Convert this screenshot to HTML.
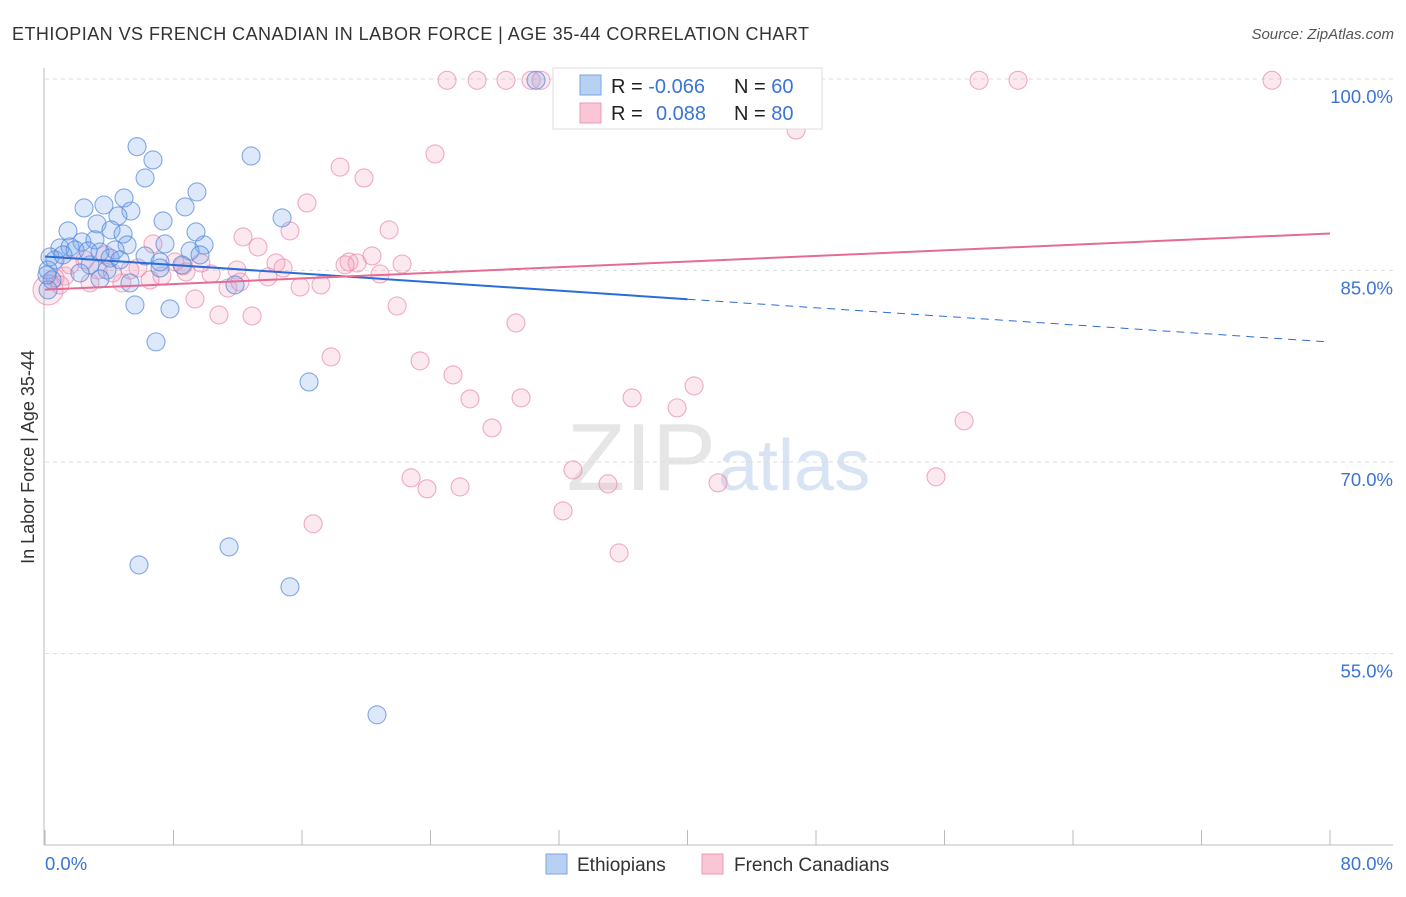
<!DOCTYPE html>
<html><head><meta charset="utf-8"><style>
body{margin:0;background:#fff;font-family:"Liberation Sans",sans-serif;}
svg text{font-family:"Liberation Sans",sans-serif;}
</style></head><body>
<svg id="c" width="1406" height="892">
<text x="12" y="40" font-size="18" fill="#333" textLength="797">ETHIOPIAN VS FRENCH CANADIAN IN LABOR FORCE | AGE 35-44 CORRELATION CHART</text>
<text x="1394" y="39" font-size="15" fill="#555" font-style="italic" text-anchor="end">Source: ZipAtlas.com</text>
<text x="34" y="457" font-size="18" fill="#333" text-anchor="middle" transform="rotate(-90 34 457)">In Labor Force | Age 35-44</text>
<text x="716" y="490" font-size="96" fill="#e6e6e6" text-anchor="end" font-family="Liberation Serif">ZIP</text>
<text x="718" y="490" font-size="72" fill="#d8e4f4">atlas</text>
<g id="grid"></g><g id="pts"></g><g id="lines"></g>
<g>
<rect x="553" y="68" width="269" height="61" fill="#fff" stroke="#ddd"/>
<rect x="580" y="75" width="21" height="20" fill="#b8d0f2" stroke="#7aa6e6"/>
<rect x="580" y="103" width="21" height="20" fill="#f8c6d4" stroke="#ee9ab4"/>
<text x="611" y="93" font-size="20" fill="#222">R = <tspan fill="#3a74d6">-0.066</tspan></text>
<text x="734" y="93" font-size="20" fill="#222">N = <tspan fill="#3a74d6">60</tspan></text>
<text x="611" y="120" font-size="20" fill="#222">R = <tspan fill="#3a74d6" x="656">0.088</tspan></text>
<text x="734" y="120" font-size="20" fill="#222">N = <tspan fill="#3a74d6">80</tspan></text>
</g>
<g>
<rect x="546" y="854" width="21" height="20" fill="#b8d0f2" stroke="#7aa6e6"/>
<text x="577" y="871" font-size="19" fill="#333">Ethiopians</text>
<rect x="702" y="854" width="21" height="20" fill="#f8c6d4" stroke="#ee9ab4"/>
<text x="734" y="871" font-size="19" fill="#333">French Canadians</text>
</g>
</svg>
<script>
const yTicks=[100,85,70,55];
const yTickLabels=["100.0%","85.0%","70.0%","55.0%"];
const xTickLabels=["0.0%","80.0%"];
const blueX=[5.73,6.72,6.23,12.83,9.46,8.72,2.43,3.67,4.92,5.35,4.54,7.35,14.76,1.43,3.24,4.11,9.40,2.30,3.11,4.86,5.11,7.47,9.90,0.93,1.56,1.87,2.68,3.42,4.36,6.23,9.03,0.31,0.62,4.05,8.53,7.16,2.80,2.18,3.86,0.19,0.44,3.42,5.29,11.83,0.19,5.60,7.78,6.91,16.44,11.46,5.85,15.25,20.67,30.57,33.0,0.12,1.12,4.67,7.16,9.65];
const blueY=[94.7,93.66,92.25,93.97,91.15,89.98,89.9,90.13,90.68,89.66,89.27,88.88,89.12,88.1,88.65,88.18,88.02,87.24,87.4,87.86,87.0,87.08,87.0,86.77,86.85,86.61,86.53,86.45,86.61,86.14,86.53,86.06,85.83,85.98,85.44,85.67,85.44,84.81,85.04,85.04,84.26,84.34,84.03,83.87,83.48,82.3,81.99,79.41,76.27,63.35,61.94,60.22,50.2,99.9,99.9,84.65,86.22,85.83,85.2,86.22];
const pinkX=[25.03,26.9,28.7,30.26,30.88,33.18,35.11,37.6,58.15,60.58,76.39,46.76,24.28,18.37,19.86,16.31,15.25,12.33,21.42,13.26,20.36,18.93,19.43,22.23,20.86,14.38,14.82,11.95,10.34,9.71,8.78,8.59,6.72,5.79,5.29,7.28,4.79,3.30,2.80,1.25,0.62,0.19,15.88,17.18,13.88,11.39,9.34,10.83,12.89,21.92,29.32,17.81,23.35,25.4,26.46,27.83,29.64,36.55,39.35,40.41,57.22,22.79,23.78,25.84,32.87,35.05,41.9,55.47,16.69,32.25,35.74,2.49,3.74,0.93,6.54,8.09,12.14,18.68,1.56,4.2];
const pinkY=[99.9,99.9,99.9,99.9,99.9,99.9,99.9,99.9,99.9,99.9,99.9,96.0,94.13,93.1,92.25,90.29,88.1,87.63,88.18,86.84,86.14,85.67,85.59,85.51,84.73,85.59,85.2,85.04,84.73,85.59,84.89,85.36,87.08,85.2,85.04,84.57,84.03,85.04,84.03,84.57,84.42,83.48,83.71,83.87,84.5,83.63,82.77,81.52,81.44,82.22,80.89,78.23,77.92,76.82,74.94,72.67,75.02,75.02,74.24,75.96,73.22,68.76,67.9,68.05,69.38,68.29,68.37,68.84,65.16,66.17,62.88,85.83,86.22,83.87,84.26,85.67,84.1,85.44,85.44,84.8];
const blueTrend=[86.1,79.4];
const pinkTrend=[83.5,87.9];
const NS="http://www.w3.org/2000/svg";
const X=v=>45+v/80*1285;
const Y=v=>79+(100-v)/15*191.5;
function mk(t,a,p){const e=document.createElementNS(NS,t);for(const k in a)e.setAttribute(k,a[k]);document.getElementById(p).appendChild(e);return e;}
yTicks.forEach((t,i)=>{
 const l=mk('line',{x1:45,x2:1393,y1:Y(t),y2:Y(t),stroke:'#ddd','stroke-dasharray':'4,4'},'grid');
 
 
 const tx=mk('text',{x:1393,y:Y(t)+24,'font-size':18.5,fill:'#3a74d6','text-anchor':'end'},'grid');
 tx.textContent=yTickLabels[i];
 
 
});
let ax=mk('line',{x1:44,x2:44,y1:68,y2:845,stroke:'#bbb'},'grid');


ax=mk('line',{x1:44,x2:1393,y1:845,y2:845,stroke:'#bbb'},'grid');


for(let i=0;i<=10;i++){const tk=mk('line',{x1:X(i*8),x2:X(i*8),y1:830,y2:845,stroke:'#bbb'},'grid');
 
 }
xTickLabels.forEach((s,i)=>{const t=mk('text',{x:i?1393:45,y:870,'font-size':18.5,fill:'#3a74d6','text-anchor':i?'end':'start'},'grid');t.textContent=s;
 
 });
pinkX.forEach((x,i)=>{const c=mk('circle',{cx:X(x),cy:Y(pinkY[i]),r:i==41?15:9,fill:'rgba(244,165,192,0.25)',stroke:'rgba(232,130,165,0.65)','stroke-width':1.1},'pts');
 
 });
blueX.forEach((x,i)=>{const c=mk('circle',{cx:X(x),cy:Y(blueY[i]),r:9,fill:'rgba(120,165,235,0.25)',stroke:'rgba(80,135,220,0.7)','stroke-width':1.1},'pts');
 
 });
const by=x=>blueTrend[0]+(blueTrend[1]-blueTrend[0])*x/80;
let l=mk('line',{x1:X(0),y1:Y(by(0)),x2:X(40),y2:Y(by(40)),stroke:'#2a6dd8','stroke-width':2},'lines');


l=mk('line',{x1:X(40),y1:Y(by(40)),x2:X(80),y2:Y(by(80)),stroke:'#2a6dd8','stroke-width':1,'stroke-dasharray':'8,6'},'lines');


l=mk('line',{x1:X(0),y1:Y(pinkTrend[0]),x2:X(80),y2:Y(pinkTrend[1]),stroke:'#e56b95','stroke-width':2},'lines');


</script>
</body></html>
